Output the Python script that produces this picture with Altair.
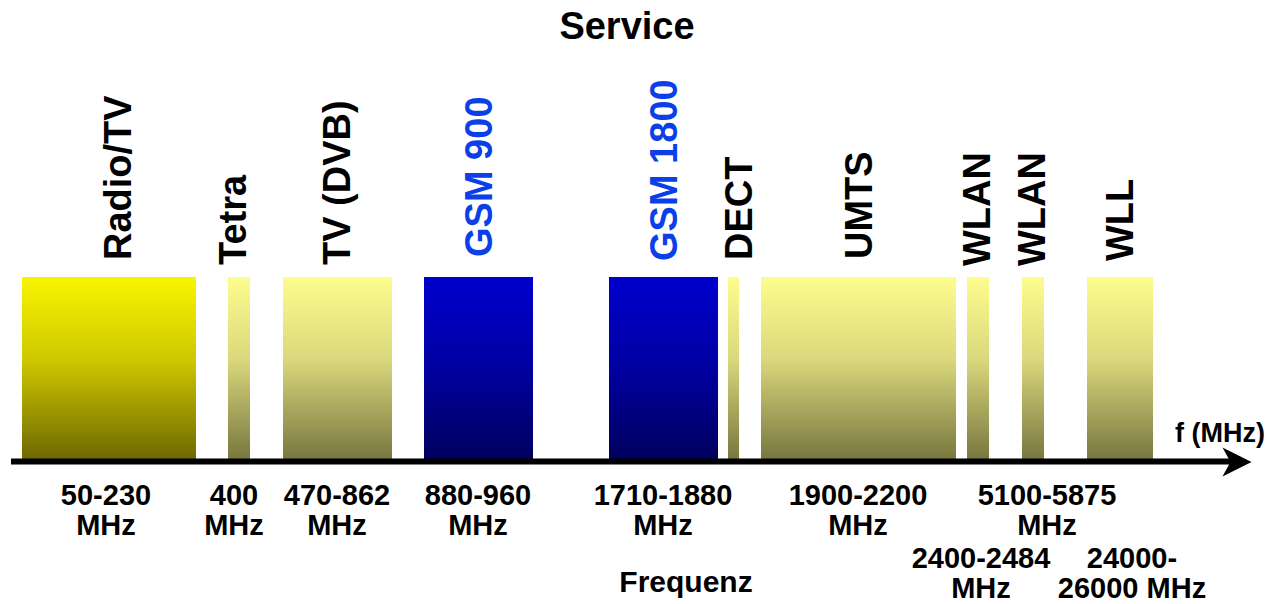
import altair as alt
import pandas as pd

# ---- schematic data (positions along the schematic, non-linear frequency axis) ----
band_names = ["Radio/TV", "Tetra", "TV (DVB)", "GSM 900", "GSM 1800",
              "DECT", "UMTS", "WLAN", "WLAN", "WLL"]
band_start = [22, 228, 283, 424, 609, 728, 761, 967, 1022, 1087]
band_end = [196, 250, 392, 533, 718, 739, 956, 989, 1044, 1153]
band_kind = ["bright", "pale", "pale", "blue", "blue",
             "pale", "pale", "pale", "pale", "pale"]
band_low = 460
band_high = 277

# service name labels (rotated)
svc_x = [131, 246, 350, 492, 677, 752, 872, 990, 1045, 1133]
svc_y = [260, 265, 265, 257, 261, 260, 259, 266, 266, 261]

# frequency range labels
freq_text = ["50-230\nMHz", "400\nMHz", "470-862\nMHz", "880-960\nMHz",
             "1710-1880\nMHz", "1900-2200\nMHz", "5100-5875\nMHz",
             "2400-2484\nMHz", "24000-\n26000 MHz"]
freq_x = [106, 234, 337, 478, 663, 858, 1047, 981, 1132]
freq_y = [482, 482, 482, 482, 482, 482, 482, 545, 545]

FONT = "Liberation Sans, Arial, Helvetica, sans-serif"

bands = pd.DataFrame({"name": band_names, "x0": band_start, "x1": band_end,
                      "kind": band_kind, "y0": band_low, "y1": band_high})
svc = pd.DataFrame({"name": band_names, "x": svc_x, "y": svc_y,
                    "col": ["blue" if k == "blue" else "black" for k in band_kind]})
freq = pd.DataFrame({"t": freq_text, "x": freq_x, "y": freq_y})

xs = alt.Scale(domain=[8, 1277])
ys = alt.Scale(domain=[8, 604], reverse=True)

def grad(stops):
    return alt.LinearGradient(
        gradient="linear", x1=0, y1=0, x2=0, y2=1,
        stops=[alt.GradientStop(color=c, offset=o) for o, c in stops])

gradients = {
    "bright": grad([(0, "#f8f500"), (0.45, "#cfc800"), (1, "#6d6800")]),
    "pale": grad([(0, "#fdfd8e"), (0.45, "#dad87c"), (1, "#77763f")]),
    "blue": grad([(0, "#0000cf"), (0.5, "#0000a0"), (1, "#00005e")]),
}

layers = []
for kind, g in gradients.items():
    layers.append(
        alt.Chart(bands).transform_filter(alt.datum.kind == kind)
        .mark_rect(fill=g, strokeWidth=0)
        .encode(x=alt.X("x0:Q", scale=xs, axis=None), x2="x1:Q",
                y=alt.Y("y0:Q", scale=ys, axis=None), y2="y1:Q")
    )

axis_df = pd.DataFrame({"x0": [11], "x1": [1232], "y": [461.5]})
axis_line = alt.Chart(axis_df).mark_rule(color="black", strokeWidth=6).encode(
    x=alt.X("x0:Q", scale=xs, axis=None), x2="x1:Q",
    y=alt.Y("y:Q", scale=ys, axis=None))

arrow_df = pd.DataFrame({"x": [1237], "y": [462]})
arrow = alt.Chart(arrow_df).mark_point(
    shape="M 1 0 L -1 -1 L -0.45 0 L -1 1 Z", size=841, filled=True,
    color="black", opacity=1, strokeWidth=0).encode(
    x=alt.X("x:Q", scale=xs, axis=None), y=alt.Y("y:Q", scale=ys, axis=None))

svc_text = alt.Chart(svc).mark_text(
    angle=270, align="left", baseline="alphabetic", font=FONT,
    fontSize=38, fontWeight="bold").encode(
    x=alt.X("x:Q", scale=xs, axis=None), y=alt.Y("y:Q", scale=ys, axis=None),
    text="name:N",
    color=alt.Color("col:N", scale=alt.Scale(domain=["black", "blue"],
                                             range=["#000000", "#0b3fe8"]),
                    legend=None))

freq_labels = alt.Chart(freq).mark_text(
    align="center", baseline="top", font=FONT, fontSize=29,
    fontWeight="bold", lineBreak="\n", lineHeight=30, color="black").encode(
    x=alt.X("x:Q", scale=xs, axis=None), y=alt.Y("y:Q", scale=ys, axis=None),
    text="t:N")

misc_text = ["Service", "Frequenz", "f (MHz)"]
misc_x = [627, 686, 1220]
misc_y = [39, 592, 442]
misc_size = [38, 30, 27]
misc = pd.DataFrame({"t": misc_text, "x": misc_x, "y": misc_y, "s": misc_size})
misc_labels = alt.Chart(misc).mark_text(
    align="center", baseline="alphabetic", font=FONT, fontWeight="bold",
    color="black").encode(
    x=alt.X("x:Q", scale=xs, axis=None), y=alt.Y("y:Q", scale=ys, axis=None),
    text="t:N", size=alt.Size("s:Q", scale=None, legend=None))

chart = alt.layer(*layers, axis_line, arrow, svc_text, freq_labels, misc_labels).properties(
    width=1269, height=596, padding=0, autosize=alt.AutoSizeParams(type="none"),
    background="white"
).configure_view(stroke=None)

chart.save("out.html", embed_options={"renderer": "svg", "actions": False})
